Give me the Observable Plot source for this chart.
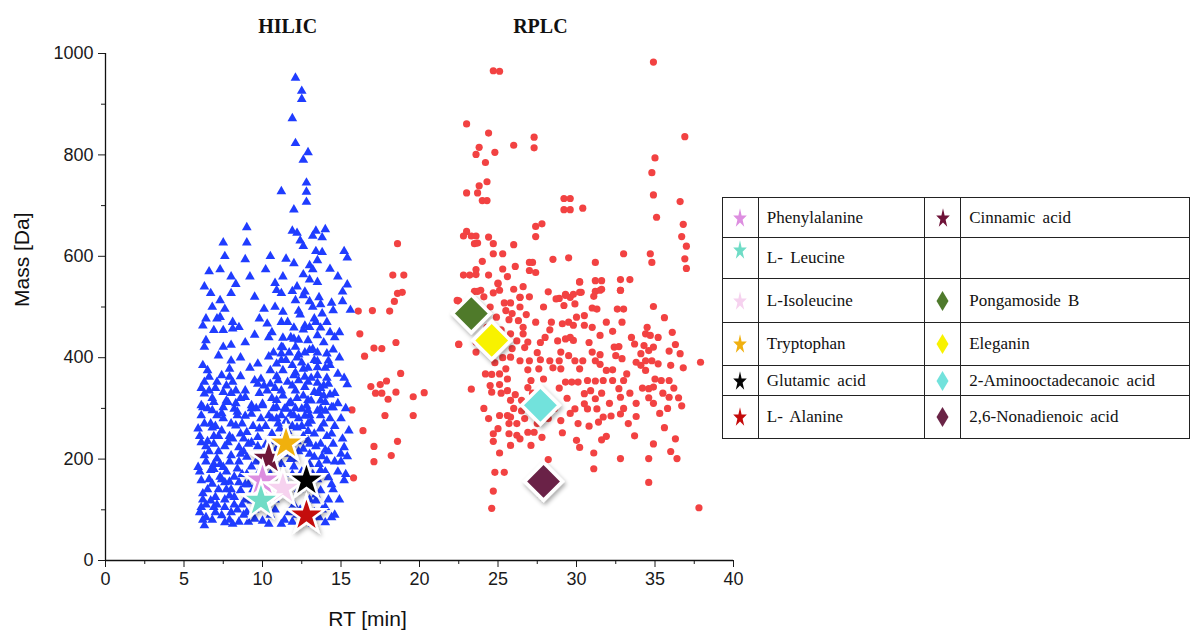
<!DOCTYPE html>
<html>
<head>
<meta charset="utf-8">
<script src="https://cdn.jsdelivr.net/npm/d3@7"></script>
<script src="https://cdn.jsdelivr.net/npm/@observablehq/plot@0.6"></script>
<style>
  body { margin: 0; background: #fff; }
  #wrap { position: relative; width: 1190px; height: 637px; overflow: hidden; }
  #chart { position: absolute; left: 0; top: 0; }
  table.lg { position: absolute; left: 722px; top: 197px; border-collapse: collapse;
    font-family: "Liberation Serif", "Times New Roman", serif; font-size: 17px; color: #111; }
  table.lg td { border: 1.6px solid #222; padding: 0; }
  table.lg td.ic { width: 35px; text-align: center; }
  table.lg td.tx { padding-left: 8px; white-space: nowrap; word-spacing: 3px; }
  table.lg svg { display: block; margin: 0 auto; }
</style>
</head>
<body>
<div id="wrap"><div id="chart"></div><div id="legend"></div></div>
<script>
// ---------------- data ----------------
const xMajor = [0, 5, 10, 15, 20, 25, 30, 35, 40];
const xMinor = [2.5, 7.5, 12.5, 17.5, 22.5, 27.5, 32.5, 37.5];
const yMajor = [0, 200, 400, 600, 800, 1000];
const yMinor = [100, 300, 500, 700, 900];
const panelTitles = ["HILIC", "RPLC"];
const panelTitleRT = [11.6, 27.7];

// HILIC features: [RT (min), mass (Da)]
const hilicPoints = [
[12.1,952],[12.5,926],[12.5,910],[11.9,872],[12.1,823],[12.9,805],[12.6,790],[12.8,745],[11.2,728],[12.8,727],[12.8,707],[12.0,692],[9.0,657],[7.5,627],[9.0,627],[12.2,646],[13.4,650],[14.0,653],[13.2,640],[13.8,637],[12.4,631],[15.2,610],[13.8,608],[8.9,594],[15.4,597],
[7.3,574],[10.2,574],[12.0,586],[13.0,582],[13.5,592],[12.6,564],[13.2,574],[11.3,560],[10.8,547],[13.0,554],[13.5,549],[15.4,544],[6.7,527],[8.0,527],[7.3,513],[10.9,533],[11.9,531],[11.2,527],[12.6,523],[13.6,519],[12.1,513],[13.0,511],[14.4,508],[15.1,511],[7.6,496],[10.1,496],[10.8,500],[13.7,505],[14.5,493],[15.6,494],[6.4,477],[7.1,477],[8.1,470],[9.8,477],[11.3,490],[12.3,492],[13.3,477],[13.8,487],[6.2,463],[6.9,454],[7.5,454],[8.1,457],[9.5,445],[10.3,467],[11.2,470],[12.0,459],[12.7,463],[13.7,459],[14.3,450],[14.9,450],[6.4,434],[10.4,440],[11.3,439],[12.0,437],[12.9,434],[13.5,444],[6.3,421],[7.5,421],[8.0,425],[11.2,421],[12.1,421],[13.2,417],[7.2,404],[14.5,416],[10.4,402],[11.2,408],[12.3,406],[14.1,408],[8.0,394],[13.5,393],[14.2,394],[6.2,385],[9.7,388],[10.9,388],[11.9,385],[6.5,375],[7.9,378],[12.6,378],[13.5,381],[6.6,362],[7.9,362],[8.6,363],[9.9,358],[10.9,363],[12.0,365],[12.7,362],[14.8,368],[6.3,352],[7.1,352],[8.1,352],[9.7,348],[10.5,348],[11.6,352],[12.9,352],[13.5,350],[14.2,348],[15.4,347],[7.5,332],[6.3,329],[8.9,322],[10.3,335],[11.2,335],[12.1,335],[13.3,332],[14.3,327],[6.9,312],[7.8,312],[10.0,309],[10.9,316],[11.8,312],[12.9,316],[14.0,312],[6.2,302],[8.2,299],[9.3,306],[11.4,299],[12.5,299],[14.5,302],[6.1,286],[7.1,286],[8.4,286],[10.4,286],[11.2,286],[12.0,286],[13.0,286],[13.7,286],
[6.1,306],[6.8,296],[7.5,302],[8.4,293],[9.3,289],[10.0,306],[10.9,302],[11.8,289],[12.9,296],[13.7,299],[14.4,302],[5.9,260],[6.7,270],[7.4,256],[8.3,266],[9.0,253],[9.7,243],[12.9,270],[13.7,260],[14.4,250],[15.5,256],[6.1,233],[6.9,230],[7.8,233],[8.5,223],[9.3,233],[12.9,237],[13.7,230],[14.5,230],[15.2,223],[6.3,207],[7.1,201],[8.0,207],[9.0,204],[12.0,201],[13.3,204],[14.1,197],[15.0,210],[5.9,184],[6.7,178],[7.5,184],[8.4,181],[13.7,178],[14.2,164],[15.2,158],[6.1,158],[6.8,151],[7.6,154],[8.5,154],[6.2,132],[7.0,125],[7.9,128],[8.6,138],[13.7,138],[13.4,118],[6.1,105],[6.9,105],[7.6,105],[6.4,85],[7.4,89],[8.5,76],[9.1,76],[10.4,72],[11.2,72],[11.9,76],[6.3,69],[14.0,105],[13.3,95],
[10.6,250],[11.0,270],[11.6,255],[12.2,262],[12.6,245],[13.0,230],[12.3,215],[11.8,228],[10.8,215],[11.2,190],[12.0,185],[12.5,175],[13.5,160],[14.5,140],[14.9,120],[13.0,120],[12.0,110],[11.7,95],[13.6,85],[14.0,75],[12.4,100],[10.5,90],[9.5,100],[8.9,120],[8.2,110],[9.4,140],[9.0,170],[9.6,195],[8.8,215],[10.2,228],[9.8,260],[10.6,280],[11.5,300],[12.2,320],[12.7,342],[13.1,315],[13.9,345],[14.6,330],[14.0,380],[13.5,410],[14.9,400],[15.2,360],[12.2,400],[11.3,420],[10.6,450],[11.6,470],[12.4,485],[13.0,460],[12.2,540],[11.5,595],[12.6,620],[14.3,575],[14.8,560],[15.1,530],[11.9,650],[13.4,610],[10.5,600],[9.2,560],[8.3,545],[9.5,520],[6.3,540],[6.6,570],[7.6,600],[8.0,560],[6.8,500],[7.3,480],[8.5,460],[8.9,430],[8.6,400],[9.2,380],[9.5,355],[8.9,335],[9.3,300],[8.7,270],[9.7,225],[7.9,245],[6.5,235],[6.9,190],[7.3,165],[8.0,140],[7.6,120],[6.4,110],[6.8,80],[7.9,80],[8.8,90],[10.0,78],[12.5,80],[13.2,72],[14.6,90],[15.3,170],[15.0,195],[14.0,218],[13.0,190],[12.3,140],[11.5,130],[10.8,120],[11.4,160],[10.5,170],
[6.0,95],[6.2,120],[6.5,140],[6.7,118],[7.0,95],[7.2,140],[7.4,160],[7.7,140],[8.0,95],[8.2,125],[8.4,100],[8.7,110],[9.0,95],[9.3,118],[6.0,175],[6.4,195],[6.6,215],[6.9,245],[7.2,215],[7.3,190],[7.7,175],[7.9,195],[8.2,165],[8.5,195],[8.7,170],[9.1,150],[9.3,185],[6.0,245],[6.3,270],[6.5,300],[6.8,320],[7.0,265],[7.2,245],[7.5,280],[7.7,315],[8.0,270],[8.1,240],[8.3,310],[8.6,250],[8.9,285],[9.1,230],[9.4,265],[6.1,340],[6.6,335],[7.0,340],[7.4,365],[7.7,345],[8.3,335],[8.6,320],[6.4,225],[6.8,262],[7.6,225],[8.8,240],[6.6,160],[7.9,155],[8.9,150],[7.1,110],[6.2,80],[7.6,75],[8.1,72],[9.5,82],[6.9,180],[8.6,210],[7.4,290],[8.0,330],
[10.6,320],[10.8,340],[11.0,355],[11.3,375],[11.5,395],[11.7,410],[11.9,345],[12.1,370],[12.3,355],[12.5,390],[12.7,410],[12.9,380],[13.1,360],[13.3,395],[13.5,365],[13.7,340],[13.9,325],[14.1,360],[14.3,385],[10.7,300],[10.9,280],[11.1,260],[11.3,245],[11.5,275],[11.7,310],[11.9,265],[12.1,300],[12.3,280],[12.5,265],[12.7,285],[12.9,255],[13.1,275],[13.3,250],[13.5,295],[13.7,315],[13.9,270],[14.1,245],[14.3,280],[14.6,265],[10.6,235],[11.0,225],[11.4,210],[11.8,200],[12.2,235],[12.6,220],[13.0,210],[13.4,225],[13.8,205],[14.2,215],[14.6,195],[11.9,170],[12.4,155],[13.2,170],[13.6,190],[14.0,175],[14.4,150],[14.8,175],[13.0,145],[13.4,130],[14.2,120],[12.8,105],[13.8,100],[14.4,85],[12.2,90],[11.4,80],[10.8,100],[11.1,140],[10.6,190],[11.2,395],[10.7,410],[12.3,435],[13.0,415],[13.9,430],[14.6,440],[12.6,325],[11.3,325],[12.8,305],[13.6,330],[14.0,295],[14.8,310],[15.0,280],[15.3,300],[15.1,240],[15.4,205],[10.5,375],[11.8,440],[12.6,455],[13.4,470],[14.1,470],[13.2,500],[12.7,530],
[9.6,300],[9.8,330],[10.1,345],[9.9,280],[10.2,265],[10.0,150],[9.7,120],[10.2,110],[9.8,175]
];

// RPLC features: [RT (min), mass (Da)]
const rplcPoints = [
[18.6,625],[18.3,563],[19.0,563],[18.6,527],[18.9,529],[18.4,511],[16.1,492],[17.0,493],[18.1,492],[16.2,447],[17.1,419],[17.6,418],[18.5,430],[16.5,403],[18.8,369],[16.9,343],[17.5,347],[17.9,354],[17.2,330],[17.6,330],[18.5,332],[18.0,318],[19.6,323],[20.3,331],[15.7,297],[17.8,286],[19.6,286],[16.4,256],[18.6,235],[17.1,225],[18.2,207],[17.1,195],[15.8,163],[22.5,512],[22.5,427],
[24.7,966],[25.1,965],[34.9,983],[23.0,861],[24.4,843],[27.3,835],[23.8,815],[27.3,814],[26.0,819],[23.6,801],[24.8,805],[24.2,785],[36.9,836],[35.0,794],[34.8,765],[34.9,721],[35.1,677],[36.6,708],[36.8,663],[36.7,639],[37.0,620],[36.9,595],[37.0,576],[24.3,747],[23.8,739],[23.0,725],[23.7,725],[24.0,710],[24.3,710],[29.2,714],[29.6,714],[29.2,692],[29.6,692],[30.4,695],[27.4,659],[27.8,664],[27.4,639],[23.0,649],[22.8,640],[23.3,640],[23.6,640],[23.5,625],[23.7,626],[24.4,638],[24.7,625],[26.0,623],[24.7,605],[25.3,605],[27.0,588],[27.2,588],[28.5,594],[29.5,597],[31.2,588],[33.0,605],[34.7,605],[34.8,588],[27.0,572],[27.4,568],[22.8,563],[23.2,563],[23.6,564],[23.6,574],[24.4,563],[25.0,547],[25.1,533],[24.7,528],[26.0,535],[26.4,519],[30.2,550],[31.2,552],[31.6,552],[32.8,554],[33.4,554],[32.8,533],[31.6,535],[31.2,531],[30.2,529],[29.3,525],[28.9,517],[29.6,519],[23.7,531],[23.9,533],
[25.0,546],[26.4,519],[25.4,508],[25.8,508],[25.5,493],[25.9,487],[26.4,500],[26.8,485],[25.7,475],[26.3,473],[26.6,460],[25.8,447],[26.6,447],[26.2,433],[26.9,431],[25.9,418],[25.8,401],[26.4,394],[27.0,394],[22.5,426],[23.6,431],[23.6,411],[24.2,368],[24.6,367],[25.1,368],[25.5,378],[25.6,358],[24.5,345],[25.1,347],[23.3,338],[24.6,332],[25.6,335],[26.1,327],[25.8,316],[26.5,316],[26.9,341],[27.1,355],[27.6,378],[27.9,358],[28.3,394],[28.5,380],[28.9,394],[29.0,378],[27.7,396],[26.9,376],[29.3,352],[29.7,352],[30.1,352],[30.7,355],[31.2,354],[31.7,355],[32.3,355],[30.5,329],[31.2,319],[30.5,309],[29.9,299],[30.7,299],[31.3,299],[31.7,283],[31.4,273],[32.7,339],[32.8,322],[32.8,289],[33.8,284],[25.1,286],[25.6,286],[25.8,283],[25.7,270],[24.7,250],[24.7,235],[26.2,247],[26.4,240],[26.9,253],[27.3,253],[27.1,227],[27.8,243],[25.8,227],[25.1,212],[29.0,276],[29.1,252],[30.0,237],[30.2,223],[31.1,212],[31.6,238],[31.9,245],[33.7,246],[32.8,201],[34.6,201],[36.4,201],[31.1,181],[28.2,199],[24.8,174],[25.4,174],[24.7,137],[24.6,103],[34.6,154],[37.8,104],
[22.4,513],[23.5,531],[28.7,516],[29.3,523],[29.8,525],[30.3,529],[31.1,521],[31.5,533],[32.8,533],[30.2,549],[29.2,503],[29.9,506],[31.0,498],[31.3,496],[32.6,496],[33.0,496],[34.9,501],[35.6,479],[29.1,467],[29.5,470],[30.0,480],[30.5,483],[30.5,464],[29.8,464],[28.8,433],[29.3,437],[29.8,434],[31.5,444],[32.3,452],[34.4,447],[34.7,444],[29.0,411],[29.5,404],[29.9,394],[30.4,394],[30.2,378],[31.0,411],[31.2,394],[31.5,406],[32.4,421],[32.7,422],[32.5,404],[32.9,398],[32.3,376],[34.1,408],[34.3,424],[34.6,414],[34.9,421],[34.4,394],[34.8,394],[35.2,388],[34.1,385],[34.4,375],[35.0,358],[35.4,355],[35.9,355],[34.9,342],[34.6,339],[34.6,321],[35.9,322],[36.5,321],[36.7,305],[35.9,413],[36.3,426],[36.6,408],[36.0,385],[36.8,380],[37.9,391],[33.8,391],[31.5,387],[31.9,375],[33.2,368],[33.7,427],[33.0,355],
[36.3,240],[35.6,262],[34.9,230],[36.0,215],[33.0,300],[35.5,330],[28.4,470],[27.7,430],[26.0,300],[27.3,290],[28.0,320],[26.7,280],[30.8,265],[32.1,310],[33.4,330],[35.2,440],[34.5,460],[36.1,450],
[24.1,520],[24.5,500],[24.9,480],[25.2,455],[24.3,460],[24.9,420],[25.3,400],[24.8,390],[25.2,330],[24.1,300],[24.4,280],[25.0,260],[25.7,250],[26.2,270],[26.5,295],[26.8,310],[27.2,330],[27.5,270],[28.2,280],[28.6,300],[28.9,340],[29.4,320],[29.6,290],[30.1,270],[30.9,335],[31.6,330],[32.2,285],[33.3,270],[33.8,310],[34.2,340],[34.9,310],[35.3,290],[35.8,300],[36.2,340],[33.5,440],[32.9,470],[31.9,470],[31.0,460],[30.8,430],[29.6,440],[28.3,455],[27.4,470],[27.9,500],[28.2,530],[27.0,520],[26.6,540],[25.6,560],[26.1,580],[25.3,575],[24.0,590],[26.7,420],[27.5,410],[28.0,440]
];

// highlighted compounds
const starNames  = ["Cinnamic acid","Tryptophan","Phenylalanine","L-Isoleucine","Glutamic acid","L- Leucine","L- Alanine"];
const starRT     = [10.4, 11.5, 10.0, 11.3, 12.8, 9.9, 12.8];
const starMass   = [201, 231, 158, 142, 158, 118, 89];
const starColors = ["#6e1238","#f0b010","#dd8ee0","#f6d2ef","#050505","#6fdcc6","#c40a0a"];

const diaNames  = ["Pongamoside B","Eleganin","2-Aminooctadecanoic acid","2,6-Nonadienoic acid"];
const diaRT     = [23.3, 24.6, 27.7, 27.9];
const diaMass   = [487, 434, 306, 156];
const diaColors = ["#4f7a2c","#f8f200","#72e2dc","#6a2446"];

// legend layout (table rows): [left name, left color, right name, right color, right kind]
const legendRows = [
  ["Phenylalanine","#dd8ee0","Cinnamic acid","#6e1238","star"],
  ["L- Leucine","#6fdcc6","","",""],
  ["L-Isoleucine","#f6d2ef","Pongamoside B","#4f7a2c","diamond"],
  ["Tryptophan","#f0b010","Eleganin","#f8f200","diamond"],
  ["Glutamic acid","#050505","2-Aminooctadecanoic acid","#72e2dc","diamond"],
  ["L- Alanine","#c40a0a","2,6-Nonadienoic acid","#6a2446","diamond"]
];
const legendRowHeights = [40, 41, 44, 43, 30, 43];

// ---------------- chart ----------------
const hilic = hilicPoints.map(([rt, mass]) => ({rt, mass}));
const rplc = rplcPoints.map(([rt, mass]) => ({rt, mass}));
const stars = starNames.map((name, i) => ({name, rt: starRT[i], mass: starMass[i], color: starColors[i]}));
const dias = diaNames.map((name, i) => ({name, rt: diaRT[i], mass: diaMass[i], color: diaColors[i]}));
const titles = panelTitles.map((t, i) => ({t, rt: panelTitleRT[i]}));

const font = "'Liberation Sans', Arial, sans-serif";

const chart = Plot.plot({
  width: 1190,
  height: 637,
  marginLeft: 105,
  marginRight: 457,
  marginTop: 53,
  marginBottom: 77,
  style: {fontFamily: font, fontSize: "18px", color: "#1a1a1a", background: "transparent"},
  x: {domain: [0, 40], axis: null},
  y: {domain: [0, 1000], axis: null},
  marks: [
    Plot.axisX({ticks: xMajor, tickSize: 7, tickPadding: 5, fontSize: 18, label: null, anchor: "bottom", tickFormat: d => String(d)}),
    Plot.axisX({ticks: xMinor, tickSize: 4, label: null, anchor: "bottom", tickFormat: () => ""}),
    Plot.axisY({ticks: yMajor, tickSize: 7, tickPadding: 5, fontSize: 18, label: null, anchor: "left", tickFormat: d => String(d)}),
    Plot.axisY({ticks: yMinor, tickSize: 4, label: null, anchor: "left", tickFormat: () => ""}),
    Plot.ruleX([0], {stroke: "#111", strokeWidth: 1.3}),
    Plot.ruleY([0], {stroke: "#111", strokeWidth: 1.3}),
    Plot.text(["Mass [Da]"], {frameAnchor: "left", rotate: -90, dx: -83, fontSize: 21, fill: "#111"}),
    Plot.text(["RT [min]"], {frameAnchor: "bottom", dx: -52, dy: 65, fontSize: 21, fill: "#111"}),
    Plot.text(titles, {x: "rt", y: () => 1000, text: "t", dy: -27, fontSize: 20, fontWeight: "bold",
      fontFamily: "'Liberation Serif', 'Times New Roman', serif", fill: "#111"}),
    Plot.dot(rplc, {x: "rt", y: "mass", r: 3.6, fill: "#f24242", stroke: "none"}),
    Plot.dot(hilic, {x: "rt", y: "mass", symbol: "triangle", r: 3.6, fill: "#1f3cff", stroke: "none"}),
    Plot.dot(stars, {x: "rt", y: "mass", symbol: "star", r: 11.8, fill: "color", stroke: "#fff", strokeWidth: 2.5}),
    Plot.dot(dias, {x: "rt", y: "mass", symbol: "diamond2", r: 17, fill: "color", stroke: "#fff", strokeWidth: 3.5})
  ]
});

// soft drop shadow under the highlighted markers
const defs = document.createElementNS("http://www.w3.org/2000/svg", "defs");
defs.innerHTML = '<filter id="shadow" x="-50%" y="-50%" width="200%" height="200%"><feDropShadow dx="1.5" dy="2.5" stdDeviation="2" flood-color="#000" flood-opacity="0.35"/></filter>';
chart.insertBefore(defs, chart.firstChild);
const dotGroups = chart.querySelectorAll('g[aria-label="dot"]');
dotGroups[dotGroups.length - 1].setAttribute("filter", "url(#shadow)");
dotGroups[dotGroups.length - 2].setAttribute("filter", "url(#shadow)");
document.getElementById("chart").appendChild(chart);

// ---------------- legend table ----------------
function starIcon(c) {
  return `<svg width="16" height="24" viewBox="-10 -11 20 21" preserveAspectRatio="none"><path d="${d3.symbol(d3.symbolStar, 90)()}" fill="${c}"/></svg>`;
}
function diamondIcon(c) {
  return `<svg width="13" height="22" viewBox="0 0 13 22"><polygon points="6.5,1 12.5,11 6.5,21 0.5,11" fill="${c}"/></svg>`;
}
let html = '<table class="lg">';
legendRows.forEach((r, i) => {
  const h = legendRowHeights[i];
  const lIcon = starIcon(r[1]);
  const rIcon = r[4] === "star" ? starIcon(r[3]) : r[4] === "diamond" ? diamondIcon(r[3]) : "";
  const vl = i === 1 ? "top" : "middle";
  html += `<tr style="height:${h}px">` +
    `<td class="ic" style="vertical-align:${vl}">${lIcon}</td>` +
    `<td class="tx" style="width:158px">${r[0]}</td>` +
    `<td class="ic">${rIcon}</td>` +
    `<td class="tx" style="width:220px">${r[2]}</td></tr>`;
});
html += "</table>";
document.getElementById("legend").innerHTML = html;
</script>
</body>
</html>
